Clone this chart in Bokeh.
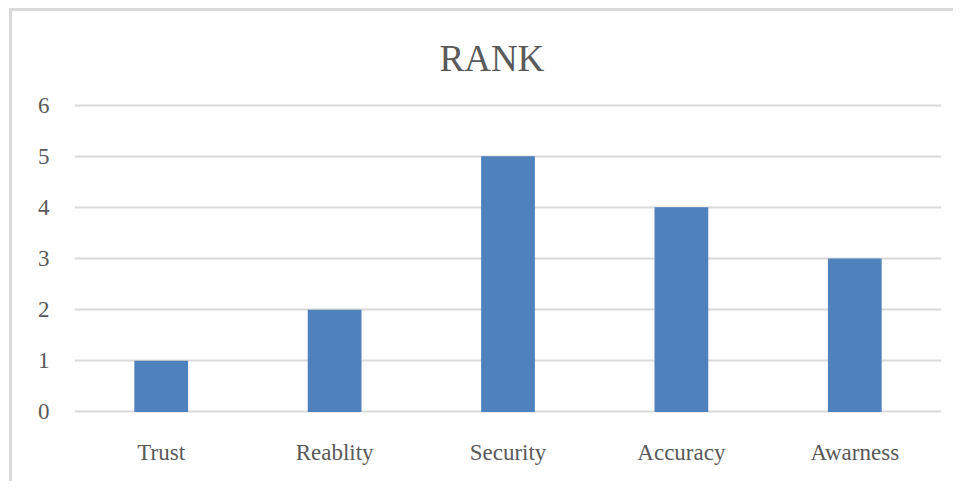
from bokeh.plotting import figure
from bokeh.models import Range1d, FactorRange, ColumnDataSource
from bokeh.embed import file_html
from bokeh.resources import INLINE

categories = ["Trust", "Reablity", "Security", "Accuracy", "Awarness"]
values = [1, 2, 5, 4, 3]
y_ticks = [0, 1, 2, 3, 4, 5, 6]
title_text = "RANK"

FONT = "Liberation Serif"
TXT = "#595959"

src = ColumnDataSource(dict(cat=categories, val=values))

p = figure(
    width=944, height=473,
    x_range=FactorRange(*categories, range_padding=0),
    y_range=Range1d(-0.03, 6.03),
    output_backend="svg", toolbar_location=None,
    min_border_left=62, min_border_right=15, min_border_top=92, min_border_bottom=71,
    styles={"margin-left": "9px", "margin-top": "8px",
            "border-left": "3px solid #d9d9d9", "border-top": "3px solid #d9d9d9"},
)
p.outline_line_color = None
p.background_fill_color = "white"
p.border_fill_color = "white"

p.title.text = title_text
p.title.align = "left"
p.title.offset = 439 - 74
p.title.text_font = FONT
p.title.text_font_size = "37px"
p.title.text_font_style = "normal"
p.title.text_color = TXT
p.title.standoff = 49

p.vbar(x="cat", top="val", bottom=0, width=0.31, source=src,
       fill_color="#4F81BD", line_color=None)

p.xgrid.grid_line_color = None
p.ygrid.grid_line_color = "#d9d9d9"
p.ygrid.grid_line_width = 2
p.ygrid.ticker = y_ticks

for ax in (p.xaxis, p.yaxis):
    ax.axis_line_color = None
    ax.major_tick_line_color = None
    ax.minor_tick_line_color = None
    ax.major_tick_out = 0
    ax.major_tick_in = 0
    ax.major_label_text_font = FONT
    ax.major_label_text_font_size = "23px"
    ax.major_label_text_color = TXT
p.yaxis.ticker = y_ticks
p.yaxis.major_label_standoff = 25
p.xaxis.major_label_standoff = 26

open("out.html", "w").write(file_html(p, INLINE))
